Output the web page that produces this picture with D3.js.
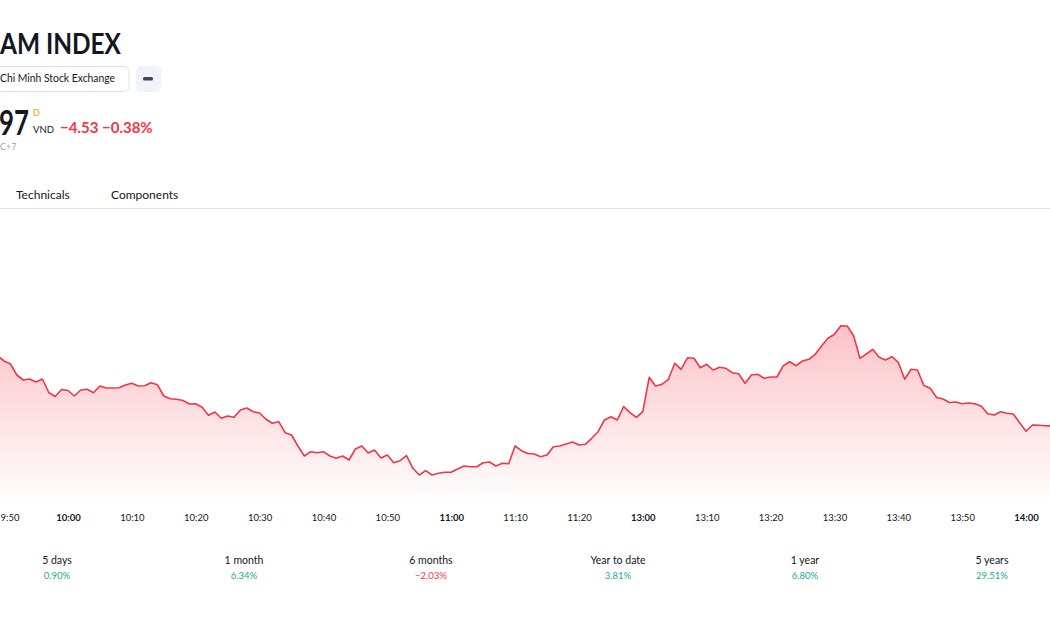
<!DOCTYPE html>
<html lang="en">
<head>
    <meta charset="UTF-8">
    <title>Vietnam Index - intraday</title>
    <script src="https://d3js.org/d3.v7.min.js"></script>
    <style>
        body { margin: 0; background: #fff; font-family: "Lato", "Noto Sans", sans-serif; }
        svg { display: block; }
    </style>
</head>
<body>
    <svg id="chart" width="1050" height="630"></svg>
    <script>
        // trading sessions (minutes), morning then afternoon
        const sessions = [["9:49", "11:29"], ["13:00", "14:04"]];

        // index level per minute
        const values = [
            1200.97, 1200.47, 1200.17, 1199.07, 1198.57, 1198.67, 1198.37, 1198.67, 1197.32, 1196.92,
            1197.62, 1197.52, 1196.97, 1197.57, 1197.64, 1197.30, 1197.97, 1197.77, 1197.77, 1197.80,
            1198.07, 1198.24, 1197.97, 1198.00, 1198.30, 1198.10, 1196.97, 1196.70, 1196.64, 1196.52,
            1196.17, 1196.20, 1195.84, 1195.04, 1195.37, 1194.74, 1194.97, 1194.84, 1195.57, 1195.77,
            1195.40, 1195.27, 1194.64, 1194.24, 1194.40, 1193.30, 1193.07, 1191.97, 1190.97, 1191.40,
            1191.30, 1191.40, 1190.97, 1190.74, 1190.97, 1190.57, 1191.67, 1191.97, 1191.27, 1191.57,
            1190.77, 1191.07, 1190.30, 1190.50, 1191.00, 1189.74, 1189.07, 1189.50, 1189.07, 1189.24,
            1189.34, 1189.34, 1189.67, 1189.97, 1189.90, 1189.90, 1190.30, 1190.37, 1189.97, 1190.24,
            1190.20, 1191.97, 1191.50, 1191.22, 1191.17, 1190.90, 1191.07, 1191.90, 1191.97, 1192.17,
            1192.37, 1192.07, 1192.14, 1192.74, 1193.40, 1194.57, 1194.90, 1194.57, 1195.90, 1195.30,
            1194.84,
            1195.40, 1198.84, 1197.97, 1198.14, 1198.64, 1200.24, 1199.64, 1200.80, 1200.74, 1199.80,
            1200.14, 1199.57, 1199.84, 1199.74, 1199.30, 1199.20, 1198.24, 1199.07, 1199.14, 1198.74,
            1198.87, 1198.87, 1200.00, 1200.40, 1200.00, 1200.47, 1200.64, 1201.14, 1202.00, 1202.74,
            1203.14, 1204.00, 1203.97, 1203.00, 1200.74, 1201.17, 1201.64, 1200.84, 1200.57, 1200.90,
            1200.34, 1198.64, 1199.64, 1199.57, 1198.02, 1197.74, 1196.82, 1196.67, 1196.32, 1196.37,
            1196.20, 1196.27, 1196.20, 1195.94, 1195.20, 1195.07, 1195.39, 1195.24, 1195.17, 1194.30,
            1193.45, 1194.07, 1194.04, 1194.00, 1193.97
        ];

        const tickLabels = ["9:50", "10:00", "10:10", "10:20", "10:30", "10:40", "10:50", "11:00",
            "11:10", "11:20", "13:00", "13:10", "13:20", "13:30", "13:40", "13:50", "14:00"];
        const hourLabels = ["10:00", "11:00", "13:00", "14:00"];

        const periods = ["5 days", "1 month", "6 months", "Year to date", "1 year", "5 years"];
        const periodChanges = [0.90, 6.34, -2.03, 3.81, 6.80, 29.51];

        // header texts as far as they show in the cropped view
        const symbolName = "AM INDEX";
        const exchange = "Chi Minh Stock Exchange";
        const lastPrice = "97";
        const change = "\u22124.53";
        const changePct = "\u22120.38%";
        const tz = "C+7";

        // build minute labels for each session
        const toMin = s => { const [h, m] = s.split(":").map(Number); return h * 60 + m; };
        const fmt = m => `${Math.floor(m / 60)}:${String(m % 60).padStart(2, "0")}`;
        const times = [];
        sessions.forEach(([a, b]) => {
            for (let m = toMin(a); m <= toMin(b); m++) times.push(fmt(m));
        });
        const data = times.map((t, i) => ({ t, i, v: values[i] }));

        const red = "#f23645", green = "#22ab94", ink = "#131722";
        const svg = d3.select("#chart");

        // ---- header ----
        svg.append("text").attr("x", 0).attr("y", 54).attr("textLength", 121)
            .attr("lengthAdjust", "spacingAndGlyphs")
            .attr("font-size", 29).attr("font-weight", 700).attr("fill", ink).text(symbolName);

        svg.append("rect").attr("x", -60).attr("y", 66.5).attr("width", 189).attr("height", 25)
            .attr("rx", 5).attr("fill", "#fff").attr("stroke", "#e0e3eb");
        svg.append("text").attr("x", 0).attr("y", 82).attr("textLength", 115)
            .attr("lengthAdjust", "spacingAndGlyphs")
            .attr("font-size", 11).attr("fill", ink).text(exchange);
        svg.append("rect").attr("x", 136).attr("y", 66).attr("width", 25).attr("height", 26)
            .attr("rx", 5).attr("fill", "#f0f3fa");
        svg.append("rect").attr("x", 143).attr("y", 77).attr("width", 10).attr("height", 3.5)
            .attr("rx", 1.5).attr("fill", "#434651");

        // big price digits, squeezed horizontally like the narrower original font
        svg.append("text").attr("transform", "translate(-1,135) scale(0.76,1)")
            .attr("font-size", 34).attr("font-weight", 700).attr("fill", ink).text(lastPrice);
        svg.append("text").attr("x", 33).attr("y", 116).attr("font-size", 9)
            .attr("fill", "#ff9800").text("D");
        svg.append("text").attr("x", 33).attr("y", 133).attr("font-size", 9.5)
            .attr("fill", ink).text("VND");
        svg.append("text").attr("x", 60).attr("y", 133).attr("font-size", 15)
            .attr("font-weight", 700).attr("fill", red).text(`${change} ${changePct}`);
        svg.append("text").attr("x", 0).attr("y", 150)
            .attr("font-size", 9).attr("fill", "#a3a6af").text(tz);

        svg.append("text").attr("x", 16).attr("y", 199).attr("font-size", 12)
            .attr("fill", ink).text("Technicals");
        svg.append("text").attr("x", 111).attr("y", 199).attr("font-size", 12)
            .attr("fill", ink).text("Components");
        svg.append("line").attr("x1", 0).attr("x2", 1050).attr("y1", 208.5).attr("y2", 208.5)
            .attr("stroke", "#e0e3eb");

        // ---- chart ----
        const paneBottom = 505;
        const x = d3.scaleLinear().domain([0, times.length - 1]).range([-2.3, 1051.6]);
        const y = d3.scaleLinear().domain([1180, 1210]).range([565.7, 265.7]);

        const grad = svg.append("defs").append("linearGradient")
            .attr("id", "fade").attr("x1", 0).attr("x2", 0).attr("y1", 0).attr("y2", 1);
        grad.append("stop").attr("offset", "0%").attr("stop-color", red).attr("stop-opacity", 0.3);
        grad.append("stop").attr("offset", "100%").attr("stop-color", red).attr("stop-opacity", 0.0);

        svg.append("path").datum(data)
            .attr("fill", "url(#fade)")
            .attr("d", d3.area().x(d => x(d.i)).y0(paneBottom).y1(d => y(d.v)));

        svg.append("path").datum(data)
            .attr("fill", "none").attr("stroke", red).attr("stroke-width", 1.6)
            .attr("stroke-linejoin", "round")
            .attr("d", d3.line().x(d => x(d.i)).y(d => y(d.v)));

        // time axis
        const tickIdx = tickLabels.map(l => times.indexOf(l));
        const axis = svg.append("g").attr("transform", `translate(0,${paneBottom})`)
            .call(d3.axisBottom(x).tickValues(tickIdx).tickSize(0).tickPadding(9)
                .tickFormat(i => times[i]));
        axis.select(".domain").remove();
        axis.selectAll("text")
            .attr("font-family", "Lato, sans-serif").attr("font-size", 9.5).attr("fill", ink)
            .attr("font-weight", d => hourLabels.includes(times[d]) ? 700 : 400);
        // first label sits at the left edge: keep it inside
        axis.selectAll(".tick").filter(d => d === tickIdx[0]).select("text")
            .attr("text-anchor", "start").attr("x", -x(tickIdx[0]));

        // ---- performance row ----
        const px = d3.scalePoint().domain(periods).range([57, 992]);
        const perf = svg.append("g").selectAll("g").data(periods).join("g")
            .attr("transform", d => `translate(${px(d)},0)`);
        perf.append("text").attr("y", 564).attr("text-anchor", "middle")
            .attr("font-size", 10.5).attr("fill", ink).text(d => d);
        perf.append("text").attr("y", 579).attr("text-anchor", "middle")
            .attr("font-size", 9.5)
            .attr("fill", (d, i) => periodChanges[i] < 0 ? red : green)
            .text((d, i) => (periodChanges[i] < 0 ? "\u2212" : "") + Math.abs(periodChanges[i]).toFixed(2) + "%");
    </script>
</body>
</html>
